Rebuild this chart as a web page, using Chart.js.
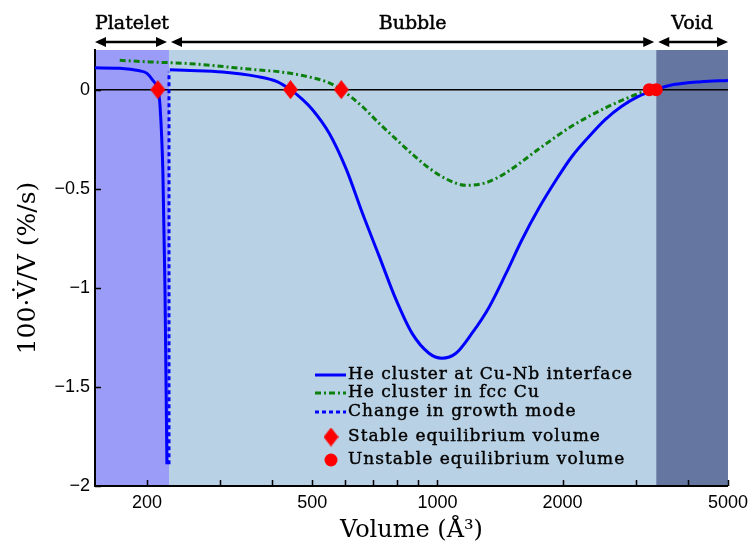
<!DOCTYPE html>
<html>
<head>
<meta charset="utf-8">
<script src="https://cdn.jsdelivr.net/npm/chart.js@4.4.0/dist/chart.umd.min.js"></script>
<style>
  html, body { margin: 0; padding: 0; background: #fff; }
  #wrap { width: 754px; height: 546px; }
</style>
</head>
<body>
<div id="wrap"><canvas id="rateChart" width="754" height="546"></canvas></div>
<script>
// Volume (Å^3) vs relative growth rate 100·dV/dt/V (%/s)
const plateletVol  = [150, 172, 192, 200, 207, 212.5, 215, 218.5, 221, 223.4];
const plateletRate = [0.11, 0.108, 0.095, 0.082, 0.045, 0, -0.08, -0.42, -1.0, -1.89];

const bubbleVol  = [227, 254, 304, 367, 410, 443, 474, 500, 549, 603, 659, 724, 795, 869, 954, 1025,
                    1108, 1210, 1329, 1460, 1595, 1752, 1924, 2102, 2308, 2536, 2770, 3044, 3360, 3592, 4308, 5000];
const bubbleRate = [0.100, 0.097, 0.089, 0.067, 0.042, 0, -0.05, -0.10, -0.22, -0.40, -0.62, -0.84, -1.06, -1.23, -1.33, -1.355,
                    -1.33, -1.23, -1.10, -0.93, -0.76, -0.60, -0.46, -0.34, -0.24, -0.15, -0.085, -0.034, 0, 0.02, 0.04, 0.046];

const fccVol  = [172, 203, 254, 367, 417, 484, 549, 587, 659, 724, 795, 869, 954, 1048, 1171, 1307, 1460, 1752, 2102, 2536, 2928, 3233];
const fccRate = [0.148, 0.140, 0.131, 0.100, 0.090, 0.067, 0.034, 0, -0.085, -0.17, -0.25, -0.325, -0.395, -0.45, -0.483, -0.47, -0.42, -0.30, -0.185, -0.092, -0.034, 0];

const modeVol  = [226, 226];
const modeRate = [-1.89, 0.09];

const stableVol    = [212.5, 443, 587];
const stableRate   = [0, 0, 0];
const unstableVol  = [3233, 3360];
const unstableRate = [0, 0];

const regionEdges = [150, 226, 3360, 5000];
const regionNames = ['Platelet', 'Bubble', 'Void'];

const xTickValues  = [200, 300, 400, 500, 600, 700, 800, 900, 1000, 2000, 3000, 4000, 5000];
const xLabelValues = [200, 500, 1000, 2000, 5000];
const yTickValues  = [0, -0.5, -1, -1.5, -2];
const yTickLabels  = ['0', '\u22120.5', '\u22121', '\u22121.5', '\u22122'];

const legendLabels = [
  'He cluster at Cu-Nb interface',
  'He cluster in fcc Cu',
  'Change in growth mode',
  'Stable equilibrium volume',
  'Unstable equilibrium volume'
];

const BLUE = '#0000ff';
const GREEN = '#0c800c';
const RED = '#ff0000';
const INK = '#000';
const regionFills = ['#9b9bf8', '#b9d1e4', '#6577a1'];
const SERIF = '"DejaVu Serif", "Liberation Serif", serif';
const SANS = '"Liberation Sans", Arial, sans-serif';

const toPoints = (xs, ys) => xs.map((v, i) => ({ x: v, y: ys[i] }));

// a slightly tall diamond marker
function makeDiamond(w, h) {
  const c = document.createElement('canvas');
  c.width = w; c.height = h;
  const g = c.getContext('2d');
  g.fillStyle = RED;
  g.beginPath();
  g.moveTo(w / 2, 0); g.lineTo(w, h / 2); g.lineTo(w / 2, h); g.lineTo(0, h / 2);
  g.closePath();
  g.fill();
  return c;
}
const diamond = makeDiamond(15, 19);

function arrowHead(ctx, x, y, dir) {
  ctx.beginPath();
  ctx.moveTo(x, y);
  ctx.lineTo(x - dir * 11, y - 5);
  ctx.lineTo(x - dir * 11, y + 5);
  ctx.closePath();
  ctx.fill();
}

// shaded regimes plus the arrows and names above the plot
const regimes = {
  id: 'regimes',
  beforeDraw(chart) {
    const { ctx, chartArea: { top, bottom }, scales: { x } } = chart;
    ctx.save();
    regionNames.forEach((name, i) => {
      const x0 = x.getPixelForValue(regionEdges[i]);
      const x1 = x.getPixelForValue(regionEdges[i + 1]);
      ctx.fillStyle = regionFills[i];
      ctx.fillRect(x0, top, x1 - x0, bottom - top);

      const a0 = i === 0 ? x0 : x0 + 2;
      const a1 = i === regionNames.length - 1 ? x1 : x1 - 2;
      const ay = 42;
      ctx.strokeStyle = INK;
      ctx.fillStyle = INK;
      ctx.lineWidth = 2.5;
      ctx.beginPath();
      ctx.moveTo(a0 + 6, ay);
      ctx.lineTo(a1 - 6, ay);
      ctx.stroke();
      arrowHead(ctx, a0, ay, -1);
      arrowHead(ctx, a1, ay, 1);

      ctx.font = '19px ' + SERIF;
      ctx.textAlign = 'center';
      ctx.textBaseline = 'middle';
      ctx.lineWidth = 0.5;
      ctx.fillText(name, (x0 + x1) / 2, 24);
      ctx.strokeText(name, (x0 + x1) / 2, 24);
    });
    ctx.restore();
  },
  // inward tick marks
  beforeDatasetsDraw(chart) {
    const { ctx, chartArea: { left, bottom }, scales: { x, y } } = chart;
    ctx.save();
    ctx.strokeStyle = INK;
    ctx.lineWidth = 1.5;
    ctx.beginPath();
    xTickValues.forEach(v => {
      const px = Math.round(x.getPixelForValue(v)) + 0.5;
      ctx.moveTo(px, bottom);
      ctx.lineTo(px, bottom - 6);
    });
    yTickValues.forEach(v => {
      const py = Math.round(y.getPixelForValue(v)) + 0.5;
      ctx.moveTo(left, py);
      ctx.lineTo(left + 6, py);
    });
    ctx.stroke();
    ctx.restore();
  }
};

const legendRows = {
  id: 'legendRows',
  afterDraw(chart) {
    const { ctx } = chart;
    const ds = chart.data.datasets;
    const rows = [
      { y: 375, set: ds[3], kind: 'line' },
      { y: 393, set: ds[5], kind: 'line' },
      { y: 412, set: ds[4], kind: 'line' },
      { y: 437, set: ds[0], kind: 'mark' },
      { y: 460, set: ds[1], kind: 'mark' }
    ];
    ctx.save();
    rows.forEach((r, i) => {
      if (r.kind === 'line') {
        ctx.strokeStyle = r.set.borderColor;
        ctx.lineWidth = r.set.borderWidth;
        ctx.setLineDash(r.set.borderDash || []);
        ctx.beginPath();
        ctx.moveTo(315, r.y);
        ctx.lineTo(346, r.y);
        ctx.stroke();
        ctx.setLineDash([]);
      } else if (r.set.pointStyle === 'circle') {
        ctx.fillStyle = r.set.backgroundColor;
        ctx.beginPath();
        ctx.arc(331, r.y, r.set.pointRadius, 0, Math.PI * 2);
        ctx.fill();
      } else {
        const img = r.set.pointStyle;
        ctx.drawImage(img, 331 - img.width / 2, r.y - img.height / 2);
      }
      ctx.fillStyle = INK;
      ctx.strokeStyle = INK;
      ctx.lineWidth = 0.4;
      ctx.font = '17px ' + SERIF;
      ctx.letterSpacing = '1px';
      ctx.textAlign = 'left';
      ctx.textBaseline = 'middle';
      ctx.fillText(legendLabels[i], 348, r.y);
      ctx.strokeText(legendLabels[i], 348, r.y);
    });
    ctx.restore();
  }
};

new Chart(document.getElementById('rateChart'), {
  type: 'line',
  data: {
    datasets: [
      {
        label: legendLabels[3],
        data: toPoints(stableVol, stableRate),
        showLine: false,
        pointStyle: diamond,
        pointRadius: 8,
        backgroundColor: RED,
        borderWidth: 0
      },
      {
        label: legendLabels[4],
        data: toPoints(unstableVol, unstableRate),
        showLine: false,
        pointStyle: 'circle',
        pointRadius: 6.5,
        backgroundColor: RED,
        borderWidth: 0
      },
      {
        label: legendLabels[0],
        data: toPoints(plateletVol, plateletRate),
        borderColor: BLUE,
        borderWidth: 3,
        pointRadius: 0,
        cubicInterpolationMode: 'monotone'
      },
      {
        label: legendLabels[0],
        data: toPoints(bubbleVol, bubbleRate),
        borderColor: BLUE,
        borderWidth: 3,
        pointRadius: 0,
        cubicInterpolationMode: 'monotone'
      },
      {
        label: legendLabels[2],
        data: toPoints(modeVol, modeRate),
        borderColor: BLUE,
        borderWidth: 3,
        borderDash: [4, 3],
        pointRadius: 0,
        tension: 0
      },
      {
        label: legendLabels[1],
        data: toPoints(fccVol, fccRate),
        borderColor: GREEN,
        borderWidth: 3,
        borderDash: [6, 3, 2, 3],
        pointRadius: 0,
        cubicInterpolationMode: 'monotone'
      }
    ]
  },
  options: {
    responsive: false,
    animation: false,
    layout: { padding: { top: 50, right: 22, left: 0, bottom: 0 } },
    plugins: {
      legend: { display: false },
      tooltip: { enabled: false }
    },
    scales: {
      x: {
        type: 'logarithmic',
        min: 150,
        max: 5000,
        afterBuildTicks: (scale) => {
          scale.ticks = xTickValues.map(v => ({ value: v }));
        },
        afterFit: (scale) => { scale.height = 60; },
        grid: { display: false, drawTicks: false },
        border: { display: true, color: INK, width: 2 },
        ticks: {
          autoSkip: false,
          maxRotation: 0,
          padding: 6,
          color: INK,
          font: { family: SANS, size: 18 },
          callback: (v) => xLabelValues.includes(v) ? String(v) : ''
        },
        title: {
          display: true,
          text: 'Volume (Å³)',
          color: INK,
          font: { family: SERIF, size: 24 },
          padding: { top: 0, bottom: 1 }
        }
      },
      y: {
        min: -2,
        max: 0.2,
        afterBuildTicks: (scale) => {
          scale.ticks = yTickValues.map(v => ({ value: v }));
        },
        afterFit: (scale) => { scale.width = 95; },
        grid: {
          drawTicks: false,
          lineWidth: 1.5,
          color: (c) => (c.tick && c.tick.value === 0) ? INK : 'rgba(0,0,0,0)'
        },
        border: { display: true, color: INK, width: 2 },
        ticks: {
          padding: 5,
          color: INK,
          font: { family: SANS, size: 18 },
          callback: (v) => yTickLabels[yTickValues.indexOf(v)]
        },
        title: {
          display: true,
          text: '100\u00b7V\u0307/V (%/s)',
          color: INK,
          font: { family: SERIF, size: 25 },
          padding: { top: 13, bottom: 0 }
        }
      }
    }
  },
  plugins: [regimes, legendRows]
});
</script>
</body>
</html>
